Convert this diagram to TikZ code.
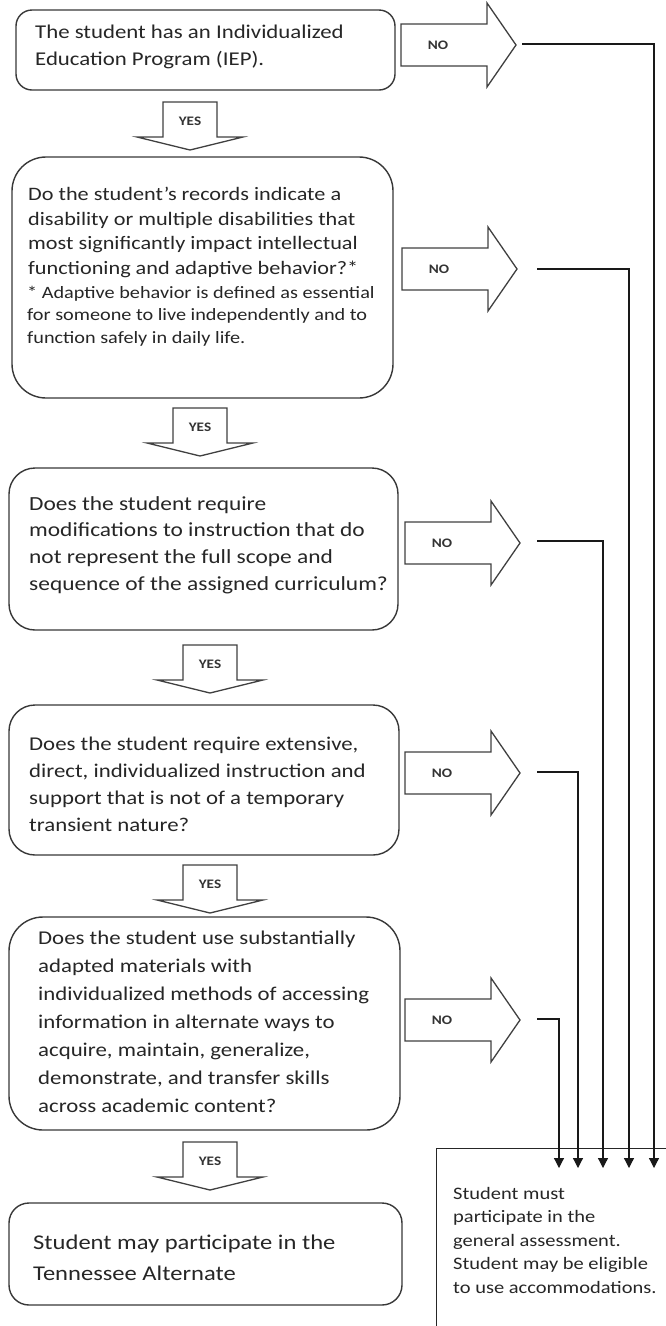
\documentclass[tikz,border=0pt]{standalone}
\usepackage{fontspec}
\setmainfont{Carlito}[FakeStretch=1.17]
\usetikzlibrary{arrows.meta}
\begin{document}
\begin{tikzpicture}[x=1pt,y=-1pt,
  qbox/.style={draw=black!78, line width=1.4pt, rounded corners=#1, inner sep=0pt, fill=white},
  qbox/.default=20pt,
  txt/.style={anchor=west, align=left, inner sep=0pt, text=black!85},
  blk/.style={draw=black!75, line width=1.3pt, fill=white, line join=miter},
  lbl/.style={font=\bfseries\fontsize{13}{13}\selectfont, text=black!80, inner sep=0pt},
  conn/.style={draw=black!90, line width=1.2pt},
  tipd/.style={-{Triangle[width=10pt,length=10pt]}}
]
\useasboundingbox (0,0) rectangle (666,1326);
\clip (0,0) rectangle (666,1326);

% ---------- YES arrows: #1 name, #2 cx, #3 top
\newcommand{\yesarr}[3]{%
  \draw[blk] (#2-27,#3) -- (#2+27,#3) -- (#2+27,#3+35) -- (#2+53,#3+35) -- (#2,#3+48)
     -- (#2-53,#3+35) -- (#2-27,#3+35) -- cycle;
  \node[lbl] (#1) at (#2,#3+19) {YES};}
% ---------- NO arrows: #1 name, #2 left, #3 cy
\newcommand{\noarr}[3]{%
  \draw[blk] (#2,#3-21) -- (#2+86,#3-21) -- (#2+86,#3-42) -- (#2+115,#3) -- (#2+86,#3+42)
     -- (#2+86,#3+21) -- (#2,#3+21) -- cycle;
  \node[lbl] (#1) at (#2+37,#3) {NO};}

% ---------- boxes
\node[qbox=16pt, minimum width=379pt, minimum height=80pt] (b1) at (205.5,50) {};
\node[txt, font=\fontsize{19.5}{27}\selectfont] (t1) at (35,46.5)
  {The student has an Individualized\\Education Program (IEP).};

\node[qbox=34pt, minimum width=381pt, minimum height=241pt] (b2) at (202.5,277.5) {};
\node[txt, font=\fontsize{19}{24.5}\selectfont] (t2) at (28,232.5)
  {Do the student’s records indicate a\\disability or multiple disabilities that\\most significantly impact intellectual\\functioning and adaptive behavior?*};
\node[txt, font=\fontsize{17.3}{22.5}\selectfont] (t2f) at (27,316)
  {* Adaptive behavior is defined as essential\\for someone to live independently and to\\function safely in daily life.};

\node[qbox=26pt, minimum width=389pt, minimum height=162pt] (b3) at (203.5,549) {};
\node[txt, font=\fontsize{20}{26.7}\selectfont] (t3) at (29,545)
  {Does the student require\\modifications to instruction that do\\not represent the full scope and\\sequence of the assigned curriculum?};

\node[qbox=26pt, minimum width=390pt, minimum height=150pt] (b4) at (204,780) {};
\node[txt, font=\fontsize{19.5}{27}\selectfont] (t4) at (29,784)
  {Does the student require extensive,\\direct, individualized instruction and\\support that is not of a temporary\\transient nature?};

\node[qbox=34pt, minimum width=391pt, minimum height=213pt] (b5) at (204.5,1023.5) {};
\node[txt, font=\fontsize{19.5}{28}\selectfont] (t5) at (38,1022)
  {Does the student use substantially\\adapted materials with\\individualized methods of accessing\\information in alternate ways to\\acquire, maintain, generalize,\\demonstrate, and transfer skills\\across academic content?};

\node[qbox=20pt, minimum width=393pt, minimum height=102pt] (b6) at (205.5,1254) {};
\node[txt, font=\fontsize{21}{31}\selectfont] (t6) at (33,1257.5)
  {Student may participate in the\\Tennessee Alternate};

% ---------- result box (open to the right and below)
\node[draw=black!85, line width=1.4pt, inner sep=0pt, anchor=north west,
  minimum width=300pt, minimum height=260pt] (r) at (436,1148) {};
\node[txt, font=\fontsize{17.5}{23.5}\selectfont] (rt) at (453,1240)
  {Student must\\participate in the\\general assessment.\\Student may be eligible\\to use accommodations.};

% ---------- block arrows
\yesarr{y1}{190}{102}
\yesarr{y2}{200}{408}
\yesarr{y3}{210}{645}
\yesarr{y4}{210}{865}
\yesarr{y5}{210}{1142}

\noarr{n1}{401}{45}
\noarr{n2}{402}{269}
\noarr{n3}{405}{543}
\noarr{n4}{405}{773}
\noarr{n5}{405}{1020}

% ---------- connectors
\coordinate (s1) at (522,44);   \coordinate (e1) at (654,1168);
\coordinate (s2) at (537,269);  \coordinate (e2) at (629,1168);
\coordinate (s3) at (537,541);  \coordinate (e3) at (603,1168);
\coordinate (s4) at (537,772);  \coordinate (e4) at (578,1168);
\coordinate (s5) at (537,1019); \coordinate (e5) at (559,1168);
\foreach \i in {1,...,5}{
  \draw[conn, tipd] (s\i) -| (e\i);
}
\end{tikzpicture}
\end{document}
